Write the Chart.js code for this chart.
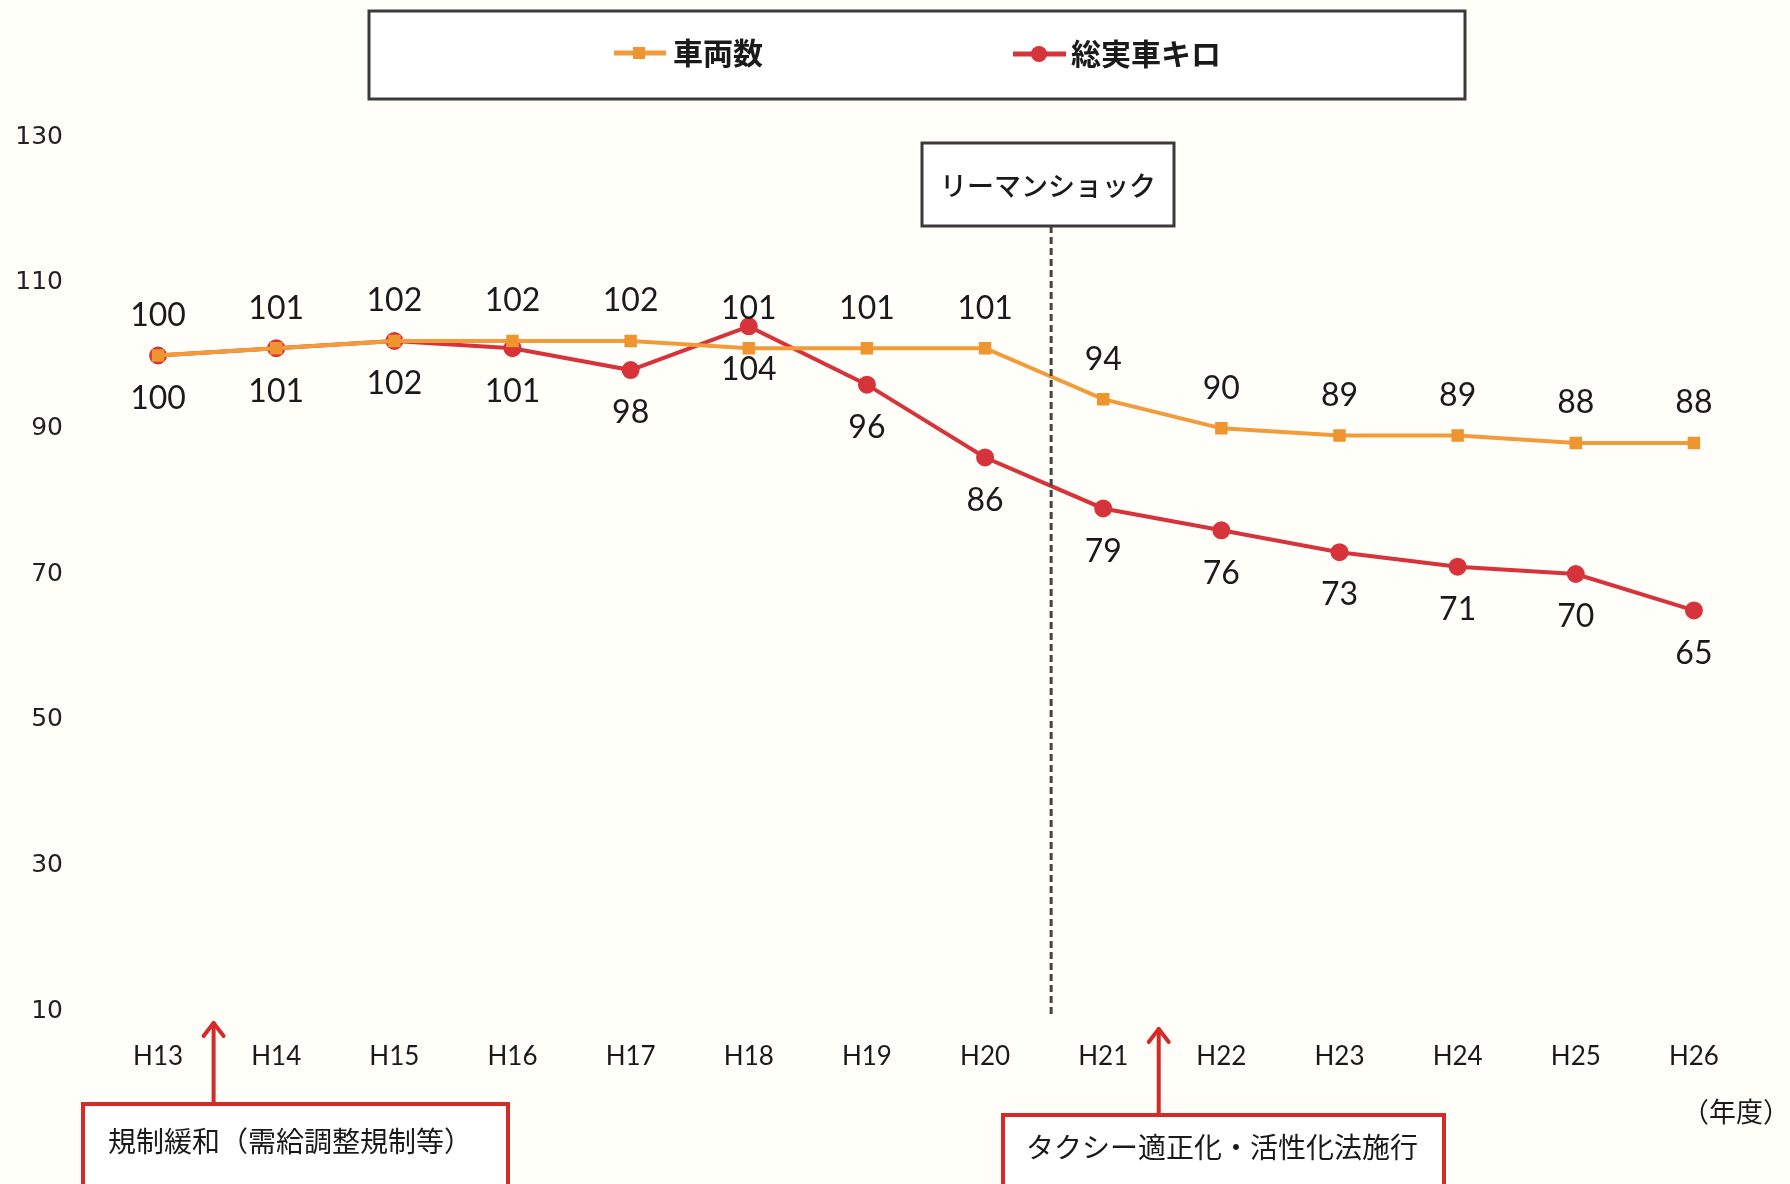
<!DOCTYPE html>
<html><head><meta charset="utf-8">
<script src="https://cdn.jsdelivr.net/npm/chart.js@4.4.0/dist/chart.umd.min.js"></script>
<style>html,body{margin:0;padding:0;background:#fffef8;}#wrap{width:1790px;height:1184px;}</style>
</head><body><div id="wrap"><canvas id="c" width="1790" height="1184"></canvas></div>
<script>
const categories = ["H13","H14","H15","H16","H17","H18","H19","H20","H21","H22","H23","H24","H25","H26"];
const vehicles = [100,101,102,102,102,101,101,101,94,90,89,89,88,88];
const kilometers = [100,101,102,101,98,104,96,86,79,76,73,71,70,65];
const seriesNames = ["車両数","総実車キロ"];
const yTicks = [10,30,50,70,90,110,130];
const eventLehman = "リーマンショック";
const eventDereg = "規制緩和（需給調整規制等）";
const eventTaxiLaw = "タクシー適正化・活性化法施行";
const unitLabel = "（年度）";

const ORANGE = "#f29b38", ORANGE_PT = "#ee9530";
const RED = "#d6333b";
const JP = '"Noto Sans CJK JP", "Noto Sans", sans-serif';
const NUM = 'Lato, "Noto Sans", sans-serif';

function arrowUp(ctx, x, y0, y1) {
  ctx.save();
  ctx.strokeStyle = "#d42a2a"; ctx.lineWidth = 4; ctx.lineCap = "round"; ctx.lineJoin = "round";
  ctx.beginPath(); ctx.moveTo(x, y0); ctx.lineTo(x, y1); ctx.stroke();
  ctx.beginPath(); ctx.moveTo(x - 10, y1 + 13); ctx.lineTo(x, y1); ctx.lineTo(x + 10, y1 + 13); ctx.stroke();
  ctx.restore();
}

const overlay = {
  id: "overlay",
  beforeDraw(chart) {
    const ctx = chart.ctx;
    ctx.save(); ctx.fillStyle = "#fffef8"; ctx.fillRect(0, 0, chart.width, chart.height); ctx.restore();
  },
  afterDatasetsDraw(chart) {
    const ctx = chart.ctx;
    ctx.save();
    ctx.font = "32px " + NUM; ctx.fillStyle = "#1a1a1a"; ctx.textAlign = "center"; ctx.textBaseline = "middle";
    chart.getDatasetMeta(0).data.forEach((p, i) => ctx.fillText(String(vehicles[i]), p.x, p.y - 40));
    chart.getDatasetMeta(1).data.forEach((p, i) => ctx.fillText(String(kilometers[i]), p.x, p.y + 43));
    ctx.restore();
  },
  afterDraw(chart) {
    const ctx = chart.ctx;
    const xs = chart.scales.x;
    const step = xs.getPixelForValue(1) - xs.getPixelForValue(0);
    // legend box
    ctx.save();
    ctx.strokeStyle = "#3a3a3a"; ctx.lineWidth = 3;
    ctx.fillStyle = "#ffffff";
    ctx.fillRect(369, 11, 1096, 88); ctx.strokeRect(369, 11, 1096, 88);
    ctx.font = "600 30px " + JP; ctx.fillStyle = "#1a1a1a"; ctx.textBaseline = "middle"; ctx.textAlign = "left";
    ctx.strokeStyle = ORANGE; ctx.lineWidth = 5;
    ctx.beginPath(); ctx.moveTo(614, 53); ctx.lineTo(666, 53); ctx.stroke();
    ctx.fillStyle = ORANGE_PT; ctx.fillRect(633, 47, 12, 12);
    ctx.fillStyle = "#1a1a1a"; ctx.fillText(seriesNames[0], 673, 53);
    ctx.strokeStyle = RED; ctx.lineWidth = 5;
    ctx.beginPath(); ctx.moveTo(1013, 54); ctx.lineTo(1066, 54); ctx.stroke();
    ctx.fillStyle = RED; ctx.beginPath(); ctx.arc(1039, 54, 8, 0, Math.PI * 2); ctx.fill();
    ctx.fillStyle = "#1a1a1a"; ctx.fillText(seriesNames[1], 1071, 54);
    ctx.restore();

    // Lehman shock
    const xL = (xs.getPixelForValue(7) + xs.getPixelForValue(8)) / 2 + 7;
    ctx.save();
    ctx.strokeStyle = "#444"; ctx.lineWidth = 3; ctx.setLineDash([7, 4]);
    ctx.beginPath(); ctx.moveTo(xL, 226); ctx.lineTo(xL, 1016); ctx.stroke();
    ctx.setLineDash([]);
    ctx.fillStyle = "#ffffff"; ctx.fillRect(922, 143, 252, 83);
    ctx.strokeStyle = "#3a3a3a"; ctx.lineWidth = 3; ctx.strokeRect(922, 143, 252, 83);
    ctx.font = "500 27px " + JP; ctx.fillStyle = "#1a1a1a"; ctx.textAlign = "center"; ctx.textBaseline = "middle";
    ctx.fillText(eventLehman, 1048, 186);
    ctx.restore();

    // bottom annotations
    const xa1 = xs.getPixelForValue(0) + 0.47 * step;
    const xa2 = xs.getPixelForValue(8) + 0.47 * step;
    arrowUp(ctx, xa1, 1103, 1023);
    arrowUp(ctx, xa2, 1114, 1029);
    ctx.save();
    ctx.strokeStyle = "#d42a2a"; ctx.lineWidth = 4;
    ctx.fillStyle = "#ffffff";
    ctx.fillRect(83, 1104, 425, 90); ctx.strokeRect(83, 1104, 425, 90);
    ctx.fillRect(1003, 1115, 441, 80); ctx.strokeRect(1003, 1115, 441, 80);
    ctx.font = "28px " + JP; ctx.fillStyle = "#1a1a1a"; ctx.textAlign = "left"; ctx.textBaseline = "middle";
    ctx.fillText(eventDereg, 108, 1141);
    ctx.fillText(eventTaxiLaw, 1026, 1147);
    ctx.font = "27px " + JP;
    ctx.fillText(unitLabel, 1682, 1112);
    ctx.restore();
  }
};

new Chart(document.getElementById("c"), {
  type: "line",
  data: {
    labels: categories,
    datasets: [
      { label: seriesNames[0], data: vehicles, borderColor: ORANGE, backgroundColor: ORANGE_PT,
        borderWidth: 4, pointStyle: "rect", pointRadius: 6, pointBackgroundColor: ORANGE_PT, pointBorderColor: ORANGE_PT, tension: 0 },
      { label: seriesNames[1], data: kilometers, borderColor: RED, backgroundColor: RED,
        borderWidth: 4, pointStyle: "circle", pointRadius: 7, pointBackgroundColor: RED, pointBorderColor: RED, tension: 0 }
    ]
  },
  options: {
    responsive: false, animation: false, devicePixelRatio: 1,
    layout: { padding: { top: 137, right: 37, left: 0, bottom: 0 } },
    plugins: { legend: { display: false }, tooltip: { enabled: false } },
    scales: {
      x: {
        offset: true,
        grid: { display: false, drawTicks: false }, border: { display: false },
        ticks: { color: "#1a1a1a", font: { family: NUM, size: 26 }, padding: 30, maxRotation: 0, autoSkip: false },
        afterFit(s) { s.height = 173; }
      },
      y: {
        min: 10, max: 130,
        afterBuildTicks(s) { s.ticks = yTicks.map(v => ({ value: v })); },
        grid: { display: false, drawTicks: false }, border: { display: false },
        ticks: { color: "#222", font: { family: '"DejaVu Sans", Verdana, sans-serif', size: 25 }, padding: 36 },
        afterFit(s) { s.width = 99; }
      }
    }
  },
  plugins: [overlay]
});
</script>
</body></html>
